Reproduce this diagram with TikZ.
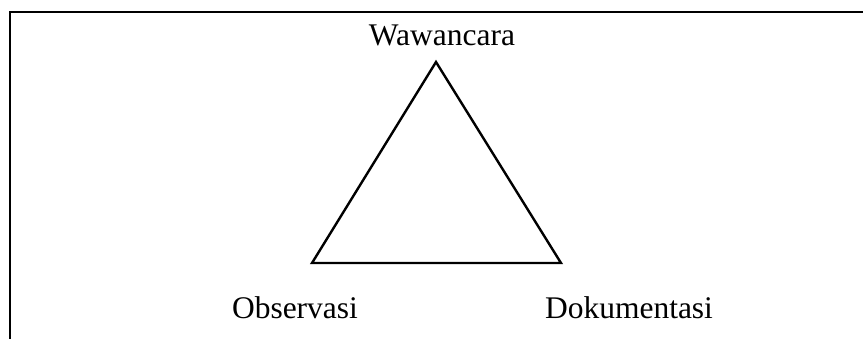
\documentclass[tikz,border=0pt]{standalone}
\usepackage{fontspec}
\setmainfont{Liberation Serif}
\begin{document}
\begin{tikzpicture}[x=1pt,y=-1pt,
  lbl/.style={font=\fontsize{31.5}{37}\selectfont, inner sep=0pt, anchor=base},
  frameline/.style={line width=2.7pt, line cap=rect},
  triline/.style={line width=2.4pt, line join=miter}]
\useasboundingbox (0,0) rectangle (863,338);
\coordinate (fl) at (10,338);
\coordinate (ftl) at (10,12);
\coordinate (ftr) at (863,12);
\draw[frameline] (fl) -- (ftl) -- (ftr);
\coordinate (A) at (436,62);
\coordinate (B) at (312,263);
\coordinate (C) at (561,263);
\draw[triline] (A) -- (B) -- (C) -- cycle;
\node[lbl] (w) at (442,45) {Wawancara};
\node[lbl] (o) at (295,318) {Observasi};
\node[lbl] (d) at (629,318) {Dokumentasi};
\end{tikzpicture}
\end{document}
